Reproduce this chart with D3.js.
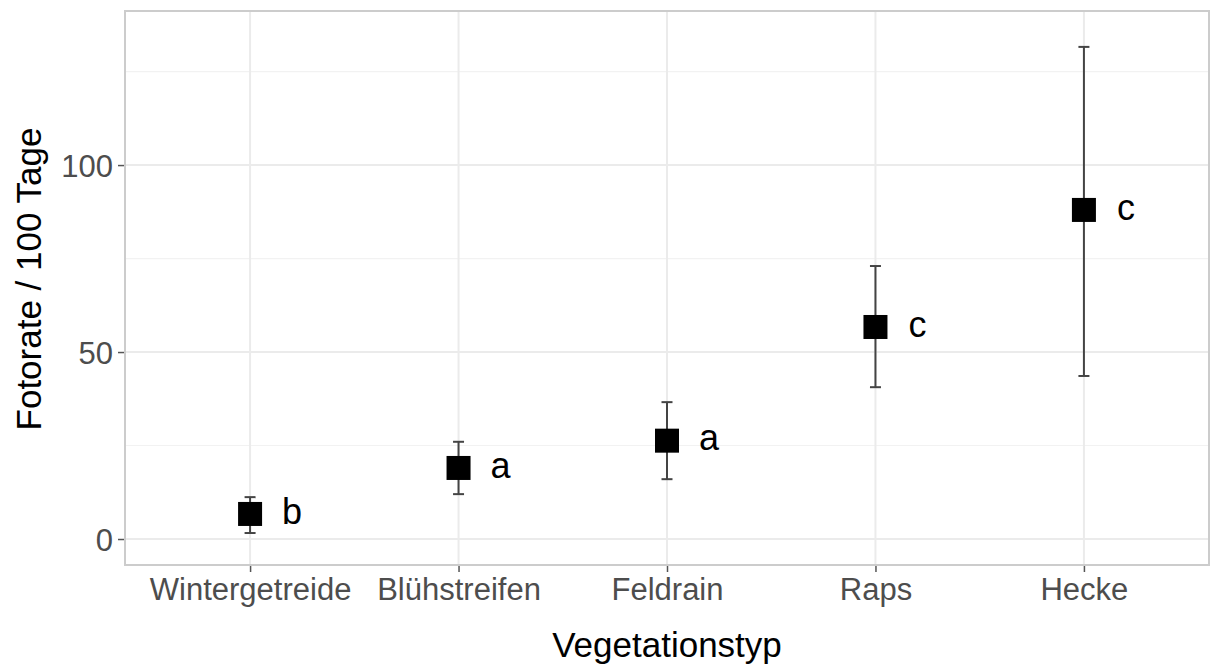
<!DOCTYPE html>
<html>
<head>
<meta charset="utf-8">
<script src="https://cdn.jsdelivr.net/npm/d3@7"></script>
<style>
  html, body { margin: 0; padding: 0; background: #fff; }
  svg { display: block; font-family: "Liberation Sans", Arial, sans-serif; }
</style>
</head>
<body>
<svg id="chart" width="1212" height="670"></svg>
<script>
const categories = ["Wintergetreide", "Blühstreifen", "Feldrain", "Raps", "Hecke"];
const means = [6.7, 19.0, 26.3, 56.7, 88.0];
const lower = [1.6, 12.0, 16.0, 40.6, 43.6];
const upper = [11.2, 26.0, 36.6, 73.0, 131.6];
const letters = ["b", "a", "a", "c", "c"];
const yTicks = [0, 50, 100];
const yMinor = [25, 75, 125];

const svg = d3.select("#chart");
const panel = { left: 125, right: 1209, top: 11, bottom: 565 };

const x = d3.scalePoint().domain(categories).range([panel.left, panel.right]).padding(0.6);
const y = d3.scaleLinear().domain([-6.95, 141.2]).range([panel.bottom, panel.top]);

const data = categories.map((c, i) => ({ c, m: means[i], lo: lower[i], hi: upper[i], l: letters[i] }));

// background
svg.append("rect").attr("x", panel.left).attr("y", panel.top)
  .attr("width", panel.right - panel.left).attr("height", panel.bottom - panel.top)
  .attr("fill", "#fff");

// minor grid
svg.append("g").selectAll("line").data(yMinor).join("line")
  .attr("x1", panel.left).attr("x2", panel.right)
  .attr("y1", d => y(d)).attr("y2", d => y(d))
  .attr("stroke", "#F2F2F2").attr("stroke-width", 1.2);

// major grid
svg.append("g").selectAll("line").data(yTicks).join("line")
  .attr("x1", panel.left).attr("x2", panel.right)
  .attr("y1", d => y(d)).attr("y2", d => y(d))
  .attr("stroke", "#EBEBEB").attr("stroke-width", 2);
svg.append("g").selectAll("line").data(categories).join("line")
  .attr("x1", d => x(d)).attr("x2", d => x(d))
  .attr("y1", panel.top).attr("y2", panel.bottom)
  .attr("stroke", "#EBEBEB").attr("stroke-width", 2);

// axes
const yAxis = svg.append("g").attr("transform", `translate(${panel.left},0)`)
  .call(d3.axisLeft(y).tickValues(yTicks).tickSize(7).tickPadding(5));
const xAxis = svg.append("g").attr("transform", `translate(0,${panel.bottom})`)
  .call(d3.axisBottom(x).tickSize(7).tickPadding(6));
[yAxis, xAxis].forEach(a => {
  a.select(".domain").remove();
  a.selectAll(".tick line").attr("stroke", "#555").attr("stroke-width", 1.5);
  a.selectAll(".tick text").attr("fill", "#4D4D4D")
    .style("font-family", '"Liberation Sans", Arial, sans-serif')
    .style("font-size", "31px");
});
yAxis.selectAll(".tick text").attr("dy", "0.36em");
xAxis.selectAll(".tick text").attr("dy", "0.72em");

// panel border
svg.append("rect").attr("x", panel.left).attr("y", panel.top)
  .attr("width", panel.right - panel.left).attr("height", panel.bottom - panel.top)
  .attr("fill", "none").attr("stroke", "#CCCCCC").attr("stroke-width", 2);

// error bars
const capW = 11;
const eb = svg.append("g").selectAll("g").data(data).join("g");
eb.append("line")
  .attr("x1", d => x(d.c)).attr("x2", d => x(d.c))
  .attr("y1", d => y(d.lo)).attr("y2", d => y(d.hi))
  .attr("stroke", "#444").attr("stroke-width", 2);
eb.append("line")
  .attr("x1", d => x(d.c) - capW / 2).attr("x2", d => x(d.c) + capW / 2)
  .attr("y1", d => y(d.hi)).attr("y2", d => y(d.hi))
  .attr("stroke", "#444").attr("stroke-width", 2);
eb.append("line")
  .attr("x1", d => x(d.c) - capW / 2).attr("x2", d => x(d.c) + capW / 2)
  .attr("y1", d => y(d.lo)).attr("y2", d => y(d.lo))
  .attr("stroke", "#444").attr("stroke-width", 2);

// points
const sq = 24;
svg.append("g").selectAll("rect").data(data).join("rect")
  .attr("x", d => x(d.c) - sq / 2).attr("y", d => y(d.m) - sq / 2)
  .attr("width", sq).attr("height", sq).attr("fill", "#000");

// letters
svg.append("g").selectAll("text").data(data).join("text")
  .attr("x", d => x(d.c) + 42).attr("y", d => y(d.m))
  .attr("dy", "0.27em")
  .attr("text-anchor", "middle")
  .attr("fill", "#000")
  .style("font-size", "36px")
  .text(d => d.l);

// axis titles
svg.append("text")
  .attr("x", (panel.left + panel.right) / 2).attr("y", 657)
  .attr("text-anchor", "middle").attr("fill", "#000")
  .style("font-size", "35px")
  .text("Vegetationstyp");
svg.append("text")
  .attr("transform", `translate(41,${279}) rotate(-90)`)
  .attr("text-anchor", "middle").attr("fill", "#000")
  .style("font-size", "35px")
  .text("Fotorate / 100 Tage");
</script>
</body>
</html>
